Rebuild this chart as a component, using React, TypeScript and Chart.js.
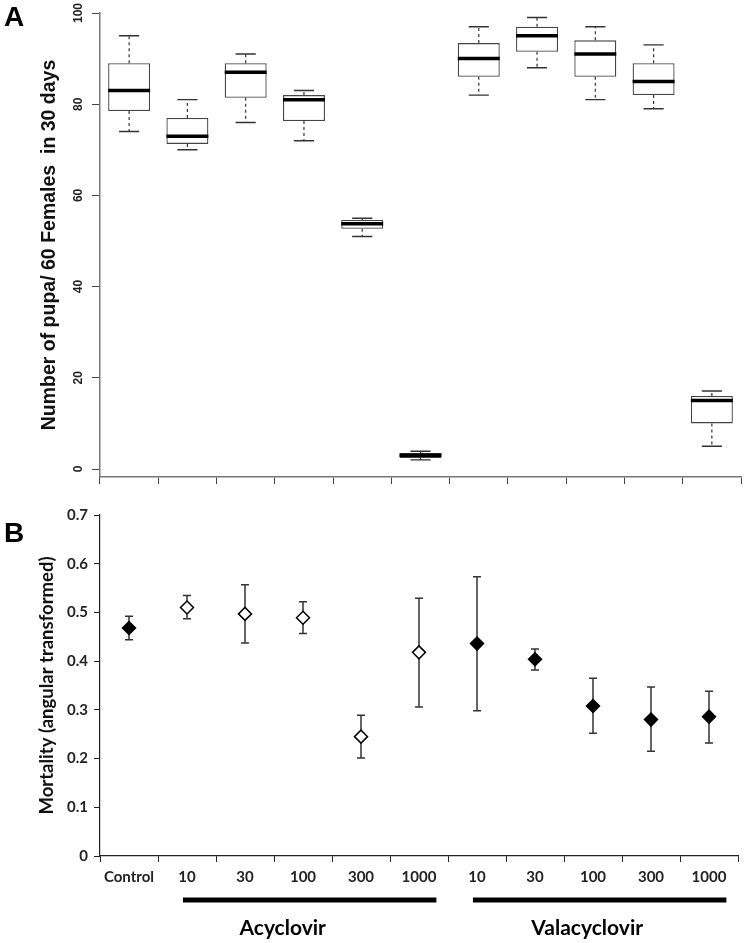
import React, { useEffect, useRef } from 'react';
import { Chart, registerables } from 'chart.js';
Chart.register(...registerables);

// ---------- Data ----------
const categories = ['Control', '10', '30', '100', '300', '1000', '10', '30', '100', '300', '1000'];

// Panel A: box plots (number of pupa / 60 females in 30 days)
const pupaMin = [74, 70, 76, 72, 51, 2, 82, 88, 81, 79, 5];
const pupaQ1 = [78.5, 71.3, 81.4, 76.3, 52.7, 2.4, 86, 91.5, 86, 82, 10];
const pupaMedian = [83, 73, 87, 81, 53.8, 3, 90, 95, 91, 85, 15];
const pupaQ3 = [89, 77, 89, 82, 54.6, 3.5, 93.4, 97, 94, 89, 16];
const pupaMax = [95, 81, 91, 83, 55, 3.9, 97, 99, 97, 93, 17.1];
const pupaTicks = [0, 20, 40, 60, 80, 100];

// Panel B: mortality (angular transformed), mean with error bars
const mortalityMean = [0.468, 0.51, 0.497, 0.489, 0.245, 0.418, 0.436, 0.404, 0.308, 0.28, 0.286];
const mortalityLow = [0.444, 0.487, 0.437, 0.457, 0.201, 0.306, 0.298, 0.382, 0.252, 0.215, 0.232];
const mortalityHigh = [0.492, 0.535, 0.557, 0.522, 0.289, 0.529, 0.573, 0.425, 0.365, 0.347, 0.338];
const mortalityFilled = [true, false, false, false, false, false, true, true, true, true, true];
const mortalityTicks = [0, 0.1, 0.2, 0.3, 0.4, 0.5, 0.6, 0.7];

const groupNames = ['Acyclovir', 'Valacyclovir'];
const groupFrom = [1, 6];
const groupTo = [5, 10];
const groupLabelAt = [2.65, 7.9];

export default function App() {
  const topRef = useRef<HTMLCanvasElement>(null);
  const botRef = useRef<HTMLCanvasElement>(null);

  useEffect(() => {
    const boxPlugin = {
      id: 'boxWhiskers',
      afterDatasetsDraw(chart: any) {
        const ctx = chart.ctx;
        const y = chart.scales.y;
        const meta = chart.getDatasetMeta(0);
        ctx.save();
        meta.data.forEach((bar: any, i: number) => {
          const x = bar.x;
          const w = bar.width;
          const yMin = y.getPixelForValue(pupaMin[i]);
          const yMax = y.getPixelForValue(pupaMax[i]);
          const yQ1 = y.getPixelForValue(pupaQ1[i]);
          const yQ3 = y.getPixelForValue(pupaQ3[i]);
          const yMed = y.getPixelForValue(pupaMedian[i]);
          ctx.strokeStyle = '#333';
          ctx.lineWidth = 1.2;
          ctx.setLineDash([3, 3]);
          ctx.beginPath();
          ctx.moveTo(x, yQ3);
          ctx.lineTo(x, yMax);
          ctx.moveTo(x, yQ1);
          ctx.lineTo(x, yMin);
          ctx.stroke();
          ctx.setLineDash([]);
          ctx.lineWidth = 1.4;
          const cw = w * 0.24;
          ctx.beginPath();
          ctx.moveTo(x - cw, yMax);
          ctx.lineTo(x + cw, yMax);
          ctx.moveTo(x - cw, yMin);
          ctx.lineTo(x + cw, yMin);
          ctx.stroke();
          ctx.strokeStyle = '#000';
          ctx.lineWidth = 3.5;
          ctx.beginPath();
          ctx.moveTo(x - w / 2, yMed);
          ctx.lineTo(x + w / 2, yMed);
          ctx.stroke();
        });
        ctx.restore();
      },
    };

    const errPlugin = {
      id: 'errorBars',
      beforeDatasetsDraw(chart: any) {
        const ctx = chart.ctx;
        const xs = chart.scales.x;
        const ys = chart.scales.y;
        ctx.save();
        ctx.strokeStyle = '#333';
        ctx.lineWidth = 1.5;
        mortalityMean.forEach((_, i) => {
          const x = xs.getPixelForValue(i);
          const yl = ys.getPixelForValue(mortalityLow[i]);
          const yh = ys.getPixelForValue(mortalityHigh[i]);
          ctx.beginPath();
          ctx.moveTo(x, yl);
          ctx.lineTo(x, yh);
          ctx.moveTo(x - 4, yl);
          ctx.lineTo(x + 4, yl);
          ctx.moveTo(x - 4, yh);
          ctx.lineTo(x + 4, yh);
          ctx.stroke();
        });
        ctx.restore();
      },
    };

    const groupPlugin = {
      id: 'groups',
      afterDraw(chart: any) {
        const ctx = chart.ctx;
        const xs = chart.scales.x;
        const step = xs.getPixelForValue(1) - xs.getPixelForValue(0);
        ctx.save();
        ctx.fillStyle = '#000';
        ctx.strokeStyle = '#000';
        ctx.lineWidth = 5;
        ctx.font = 'bold 21px Lato';
        ctx.textAlign = 'center';
        ctx.textBaseline = 'middle';
        groupNames.forEach((name, g) => {
          const x0 = xs.getPixelForValue(groupFrom[g]) - step * 0.07;
          const x1 = xs.getPixelForValue(groupTo[g]) + step * 0.3;
          const yb = xs.top + 44;
          ctx.beginPath();
          ctx.moveTo(x0, yb);
          ctx.lineTo(x1, yb);
          ctx.stroke();
          ctx.fillText(name, xs.getPixelForValue(groupLabelAt[g]), xs.top + 72);
        });
        ctx.restore();
      },
    };

    const top = new Chart(topRef.current!, {
      type: 'bar',
      data: {
        labels: categories,
        datasets: [
          {
            data: categories.map((_, i) => [pupaQ1[i], pupaQ3[i]]) as any,
            backgroundColor: '#fff',
            borderColor: '#444',
            borderWidth: 1.3,
            borderSkipped: false,
            barPercentage: 0.72,
            categoryPercentage: 1,
          },
        ],
      },
      options: {
        responsive: false,
        animation: false,
        layout: { padding: { left: 0, right: 5, top: 13, bottom: 0 } },
        plugins: { legend: { display: false }, tooltip: { enabled: false } },
        scales: {
          x: {
            ticks: { display: false },
            grid: { offset: true, drawOnChartArea: false, drawTicks: true, tickLength: 7, color: '#444' },
            border: { color: '#777', width: 1.5 },
            afterFit(s: any) {
              s.height = 13;
            },
          },
          y: {
            min: -1.75,
            max: 100,
            afterBuildTicks(s: any) {
              s.ticks = pupaTicks.map((v) => ({ value: v }));
            },
            ticks: {
              autoSkip: false,
              minRotation: 90,
              maxRotation: 90,
              crossAlign: 'center',
              padding: 3,
              color: '#222',
              font: { family: 'Liberation Sans', weight: 'bold', size: 12 },
            },
            grid: { drawOnChartArea: false, drawTicks: true, tickLength: 8, color: '#444' },
            border: { color: '#777', width: 1.5 },
            title: {
              display: true,
              text: 'Number of pupa/ 60 Females  in 30 days',
              color: '#111',
              font: { family: 'Liberation Sans', weight: 'bold', size: 19.5 },
              padding: { top: 38, bottom: 0 },
            },
            afterFit(s: any) {
              s.width = 100;
            },
          },
        },
      } as any,
      plugins: [boxPlugin],
    });

    const bot = new Chart(botRef.current!, {
      type: 'line',
      data: {
        labels: categories,
        datasets: [
          {
            data: mortalityMean,
            showLine: false,
            pointStyle: 'rectRot',
            pointRadius: 6.5,
            pointBorderWidth: 1.5,
            pointBorderColor: '#000',
            pointBackgroundColor: mortalityFilled.map((f) => (f ? '#000' : '#fff')),
          },
        ],
      },
      options: {
        responsive: false,
        animation: false,
        layout: { padding: { left: 0, right: 5, top: 25, bottom: 0 } },
        plugins: { legend: { display: false }, tooltip: { enabled: false } },
        scales: {
          x: {
            offset: true,
            ticks: {
              autoSkip: false,
              maxRotation: 0,
              padding: 6,
              color: '#222',
              font: { family: 'Lato', weight: 'bold', size: 15 },
            },
            grid: { offset: true, drawOnChartArea: false, drawTicks: true, tickLength: 6, color: '#222' },
            border: { color: '#222', width: 1.2 },
            afterFit(s: any) {
              s.height = 87;
            },
          },
          y: {
            min: 0,
            max: 0.7,
            afterBuildTicks(s: any) {
              s.ticks = mortalityTicks.map((v) => ({ value: v }));
            },
            ticks: {
              autoSkip: false,
              padding: 6,
              color: '#222',
              font: { family: 'Lato', weight: 'bold', size: 15 },
              callback: (v: any) => (v === 0 ? '0' : Number(v).toFixed(1)),
            },
            grid: { drawOnChartArea: false, drawTicks: true, tickLength: 6, color: '#222' },
            border: { color: '#222', width: 1.2 },
            title: {
              display: true,
              text: 'Mortality (angular transformed)',
              color: '#111',
              font: { family: 'Lato', weight: 'bold', size: 18.5 },
              padding: { top: 36, bottom: 0 },
            },
            afterFit(s: any) {
              s.width = 100;
            },
          },
        },
      } as any,
      plugins: [errPlugin, groupPlugin],
    });

    return () => {
      top.destroy();
      bot.destroy();
    };
  }, []);

  const panelLabel: React.CSSProperties = {
    position: 'absolute',
    left: 4,
    fontFamily: 'Liberation Sans',
    fontWeight: 'bold',
    fontSize: 28,
    lineHeight: '28px',
    color: '#000',
  };

  return (
    <div style={{ position: 'absolute', left: 0, top: 0, width: 746, height: 943, background: '#fff' }}>
      <canvas ref={topRef} width={746} height={490} style={{ position: 'absolute', left: 0, top: 0 }} />
      <canvas ref={botRef} width={746} height={453} style={{ position: 'absolute', left: 0, top: 490 }} />
      <div style={{ ...panelLabel, top: 3 }}>A</div>
      <div style={{ ...panelLabel, top: 519 }}>B</div>
    </div>
  );
}
